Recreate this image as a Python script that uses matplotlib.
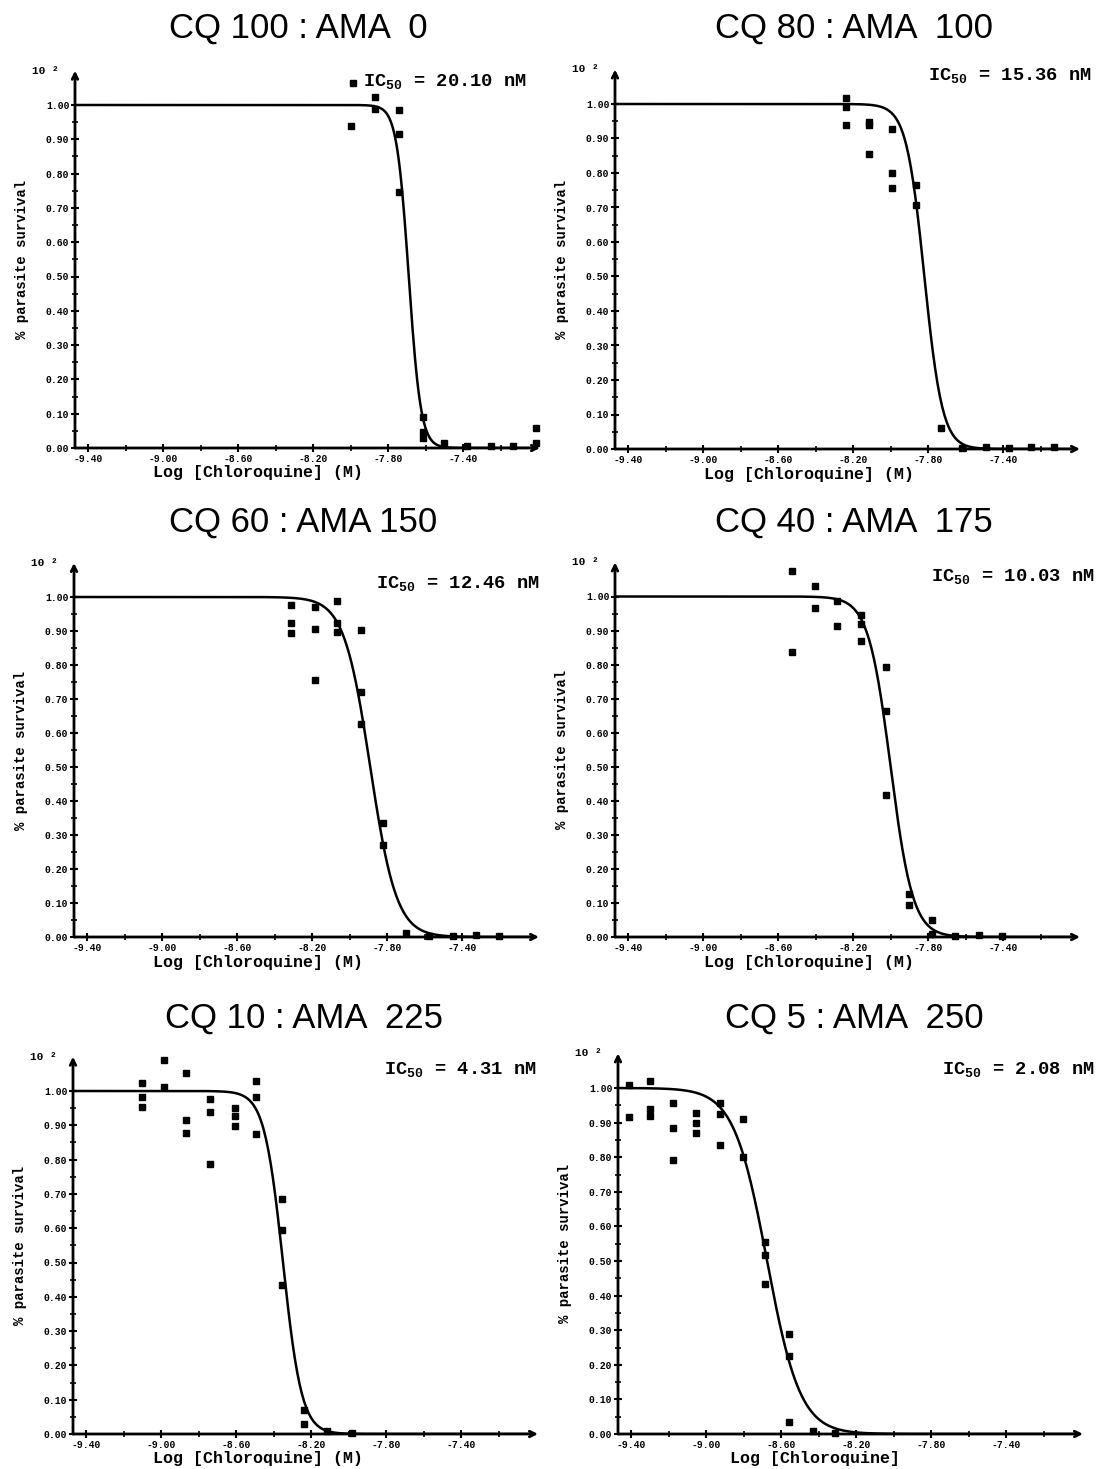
import numpy as np
import matplotlib.pyplot as plt
from matplotlib.ticker import FixedLocator, FormatStrFormatter

plt.rcParams['mathtext.fontset'] = 'custom'
plt.rcParams['mathtext.rm'] = 'Liberation Mono:bold'

# ---------- data ----------
titles = ['CQ 100 : AMA  0', 'CQ 80 : AMA  100', 'CQ 60 : AMA 150',
          'CQ 40 : AMA  175', 'CQ 10 : AMA  225', 'CQ 5 : AMA  250']
ic50_text = ['20.10', '15.36', '12.46', '10.03', '4.31', '2.08']
xlabels = ['Log [Chloroquine] (M)'] * 5 + ['Log [Chloroquine]']

# fitted sigmoid: log10 midpoint and Hill slope
fit_mid = [-7.69, -7.82, -7.89, -8.00, -8.35, -8.675]
fit_slope = [13.5, 9.0, 6.2, 7.3, 8.7, 4.9]

p1_x = [-7.99, -8.00, -7.87, -7.87, -7.74, -7.74, -7.74, -7.615, -7.615, -7.615,
        -7.50, -7.38, -7.25, -7.135, -7.01, -7.01]
p1_y = [1.065, 0.94, 1.022, 0.987, 0.985, 0.915, 0.747, 0.091, 0.048, 0.028,
        0.014, 0.007, 0.005, 0.007, 0.057, 0.014]

p2_x = [-8.24, -8.24, -8.24, -8.115, -8.115, -8.115, -7.995, -7.995, -7.995,
        -7.866, -7.866, -7.733, -7.617, -7.49, -7.368, -7.249, -7.13]
p2_y = [1.017, 0.992, 0.939, 0.949, 0.939, 0.855, 0.927, 0.801, 0.756,
        0.765, 0.707, 0.06, 0.002, 0.005, 0.004, 0.005, 0.007]

p3_x = [-8.314, -8.314, -8.314, -8.186, -8.186, -8.186, -8.068, -8.068, -8.068,
        -7.94, -7.94, -7.94, -7.821, -7.821, -7.70, -7.576, -7.448, -7.324, -7.203]
p3_y = [0.976, 0.923, 0.895, 0.97, 0.905, 0.756, 0.989, 0.924, 0.898,
        0.903, 0.722, 0.626, 0.334, 0.271, 0.011, 0.002, 0.002, 0.006, 0.002]

p4_x = [-8.527, -8.527, -8.404, -8.404, -8.284, -8.284, -8.16, -8.16, -8.16,
        -8.027, -8.027, -8.027, -7.902, -7.902, -7.778, -7.778, -7.656, -7.53, -7.407]
p4_y = [1.074, 0.838, 1.03, 0.967, 0.986, 0.913, 0.947, 0.918, 0.869,
        0.792, 0.663, 0.418, 0.125, 0.095, 0.051, 0.009, 0.002, 0.005, 0.002]

p5_x = [-9.104, -9.104, -9.104, -8.986, -8.986, -8.867, -8.867, -8.867,
        -8.739, -8.739, -8.739, -8.606, -8.606, -8.606, -8.495, -8.495, -8.495,
        -8.356, -8.356, -8.356, -8.236, -8.236, -8.113, -7.98]
p5_y = [1.022, 0.983, 0.954, 1.09, 1.012, 1.053, 0.914, 0.879,
        0.976, 0.938, 0.786, 0.95, 0.926, 0.899, 1.03, 0.983, 0.875,
        0.684, 0.595, 0.433, 0.07, 0.029, 0.008, 0.002]

p6_x = [-9.414, -9.414, -9.30, -9.30, -9.30, -9.176, -9.176, -9.176,
        -9.052, -9.052, -9.052, -8.925, -8.925, -8.925, -8.802, -8.802,
        -8.686, -8.686, -8.686, -8.559, -8.559, -8.559, -8.43, -8.312]
p6_y = [1.008, 0.915, 1.021, 0.939, 0.918, 0.958, 0.883, 0.793,
        0.929, 0.90, 0.87, 0.956, 0.924, 0.836, 0.911, 0.80,
        0.554, 0.517, 0.434, 0.288, 0.226, 0.036, 0.009, 0.002]

xs = [p1_x, p2_x, p3_x, p4_x, p5_x, p6_x]
ys = [p1_y, p2_y, p3_y, p4_y, p5_y, p6_y]

x_major = [-9.4, -9.0, -8.6, -8.2, -7.8, -7.4]
x_minor = [-9.2, -8.8, -8.4, -8.0, -7.6, -7.2]
y_major = [0.0, 0.1, 0.2, 0.3, 0.4, 0.5, 0.6, 0.7, 0.8, 0.9, 1.0]

# ---------- layout (pixels of a 1100 x 1469 image) ----------
W, H = 1100, 1469
XLIM = (-9.47, -6.99)
YLIM = (0, 1.10)
X_PX = 187.5
# left edge, y of zero, px per unit y
boxes = [(75, 448, 343), (615, 449, 345),
         (74, 937, 340), (615, 937, 340.5),
         (73, 1434, 343), (618, 1434, 346)]
title_pos = [(298, 28), (854, 28), (303, 522), (854, 522), (304, 1018), (854, 1018)]
ic_pos = [(527, 82), (1092, 76), (540, 584), (1095, 577), (537, 1070), (1095, 1070)]
xlab_cx = [258, 809, 258, 809, 258, 815]

mono = 'Liberation Mono'

fig = plt.figure(figsize=(W / 100, H / 100), dpi=100)
fig.patch.set_facecolor('white')

for i in range(6):
    left, y0, uy = boxes[i]
    w = (XLIM[1] - XLIM[0]) * X_PX
    h = (YLIM[1] - YLIM[0]) * uy
    ax = fig.add_axes([left / W, 1 - y0 / H, w / W, h / H])
    ax.set_xlim(*XLIM)
    ax.set_ylim(*YLIM)
    for s in ax.spines.values():
        s.set_visible(False)

    # axes with arrow heads
    ax.annotate('', xy=(1, 0), xytext=(0, 0), xycoords='axes fraction',
                arrowprops=dict(arrowstyle='->', lw=2.0, color='black',
                                shrinkA=0, shrinkB=0))
    ax.annotate('', xy=(0, 1), xytext=(0, 0), xycoords='axes fraction',
                arrowprops=dict(arrowstyle='->', lw=2.0, color='black',
                                shrinkA=0, shrinkB=0))

    # fitted curve
    xc = np.linspace(XLIM[0], XLIM[1] - 0.02, 400)
    yc = 1.0 / (1.0 + 10 ** ((xc - fit_mid[i]) * fit_slope[i]))
    ax.plot(xc, yc, color='black', lw=1.8, solid_capstyle='butt')

    # replicates
    ax.plot(xs[i], ys[i], 's', color='black', ms=4.5, clip_on=False)

    ax.xaxis.set_major_locator(FixedLocator(x_major))
    ax.xaxis.set_minor_locator(FixedLocator(x_minor))
    ax.yaxis.set_major_locator(FixedLocator(y_major))
    ax.yaxis.set_minor_locator(FixedLocator([v + 0.05 for v in y_major[:-1]]))
    ax.xaxis.set_major_formatter(FormatStrFormatter('%.2f'))
    ax.yaxis.set_major_formatter(FormatStrFormatter('%.2f'))
    ax.tick_params(axis='both', which='major', direction='inout', length=6,
                   width=1.5, pad=1)
    ax.tick_params(axis='both', which='minor', direction='inout', length=4,
                   width=1.2)
    for lab in ax.get_xticklabels() + ax.get_yticklabels():
        lab.set_fontfamily(mono)
        lab.set_fontweight('bold')
        lab.set_fontsize(7)

    # texts
    tx, ty = title_pos[i]
    fig.text(tx / W, 1 - ty / H, titles[i], ha='center', va='center',
             fontsize=25, family='Liberation Sans')
    cx, cy = ic_pos[i]
    fig.text(cx / W, 1 - cy / H, r'IC$_{50}$ = ' + ic50_text[i] + ' nM',
             ha='right', va='center', fontsize=13.5, family=mono,
             fontweight='bold')
    fig.text(xlab_cx[i] / W, 1 - (y0 + 25) / H, xlabels[i], ha='center',
             va='center', fontsize=12, family=mono, fontweight='bold')
    fig.text((left - 53) / W, 1 - (y0 - 0.55 * uy) / H, '% parasite survival',
             rotation=90, ha='center', va='center', fontsize=10,
             family=mono, fontweight='bold')
    fig.text((left - 30) / W, 1 - (y0 - 1.10 * uy) / H, '10 ²',
             ha='center', va='center', fontsize=8, family=mono,
             fontweight='bold')

fig.savefig('out.png', dpi=100, facecolor='white')
